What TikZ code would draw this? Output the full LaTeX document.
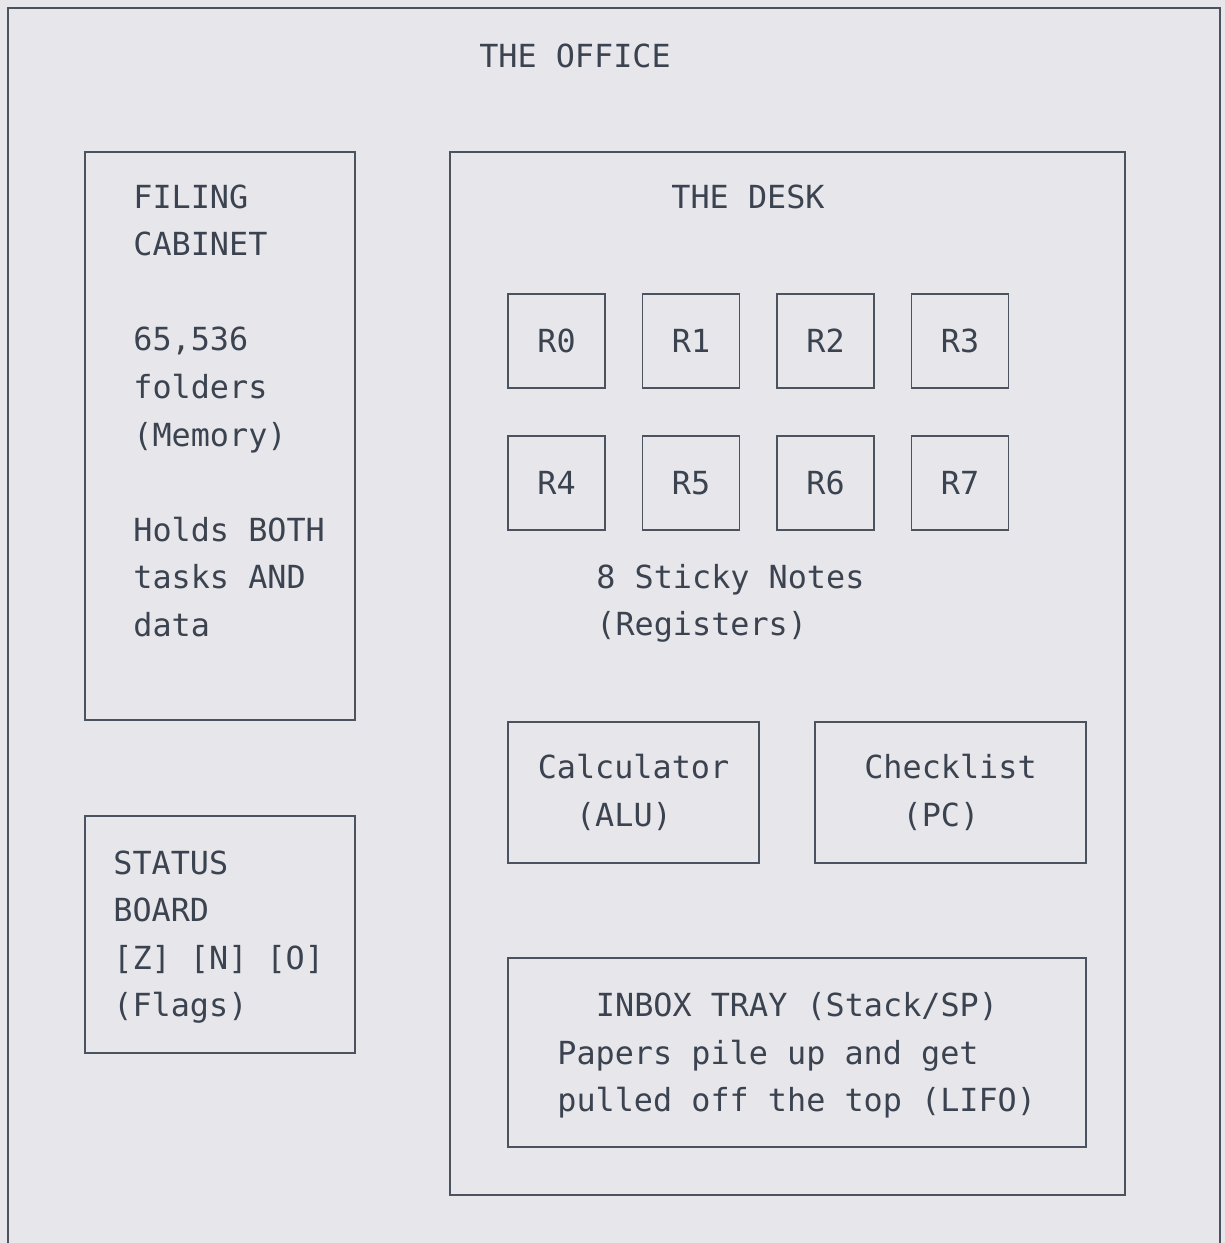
\documentclass[tikz,border=0pt]{standalone}
\usepackage{fontspec}
\setmainfont{DejaVu Sans Mono}
\usetikzlibrary{positioning, fit}
\definecolor{paper}{HTML}{E7E7EB}
\definecolor{ink}{HTML}{3B4350}
\definecolor{rule}{HTML}{4B5361}

\begin{document}
\begin{tikzpicture}[x=0.5pt, y=-0.5pt,
node distance = 24pt and 18.75pt,
   box/.style = {draw=rule, line width=0.9pt, inner sep=0pt, outer sep=0pt},
   reg/.style = {box, minimum width=48.5pt, minimum height=47pt},
  unit/.style = {box, minimum height=70.5pt, align=center},
   txt/.style = {align=left, inner sep=0pt},
          font = \fontsize{15.9}{23.8}\selectfont,
          text = ink,
         ]
\fill[paper] (0,0) rectangle (1225,1243);
\useasboundingbox (0,0) rectangle (1225,1243);
% the office
\draw[rule, line width=0.9pt] (8,1260) |- (1220,8) -- (1220,1260);
\node (office) [anchor=base] at (575,67) {THE OFFICE};

% left column (multi-line texts sit on their last baseline)
\node (cabinet) [box, fit={(85,152) (355,720)}] {};
\node (cabtext) [txt, anchor=base west] at (133,636.4)
      {FILING\\CABINET\\[23.8pt]65,536\\folders\\(Memory)\\[23.8pt]Holds BOTH\\tasks AND\\data};
\node (status)  [box, fit={(85,816) (355,1053)}] {};
\node (flags)   [txt, anchor=base west] at (113,1016.8)
      {STATUS\\BOARD\\{[Z] [N] [O]}\\(Flags)};

% the desk
\node (desk)    [box, fit={(450,152) (1125,1195)}] {};
\node (desktitle) [anchor=base] at (748,208) {THE DESK};
\node (r0) [reg] at (556.5,341) {R0};
\node (r1) [reg, right=of r0] {R1};
\node (r2) [reg, right=of r1] {R2};
\node (r3) [reg, right=of r2] {R3};
\node (r4) [reg, below=of r0] {R4};
\node (r5) [reg, right=of r4] {R5};
\node (r6) [reg, right=of r5] {R6};
\node (r7) [reg, right=of r6] {R7};
\node (notes) [txt, anchor=base west] at (596,635.6) {8 Sticky Notes\\(Registers)};
\node (alu) [unit, minimum width=125.5pt] at (633.5,792.5) {Calculator\\(ALU)\hphantom{x}};
\node (pc)  [unit, minimum width=135.5pt] at (950.5,792.5) {Checklist\\(PC)\hphantom{x}};
\node (inbox) [box, fit={(508,958) (1086,1147)}] {};
\node (stack) [anchor=base] at (797,1016) {INBOX TRAY (Stack/SP)};
\node (lifo)  [txt, anchor=base west] at (557,1111.6)
      {Papers pile up and get\\pulled off the top (LIFO)};
\end{tikzpicture}
\end{document}
